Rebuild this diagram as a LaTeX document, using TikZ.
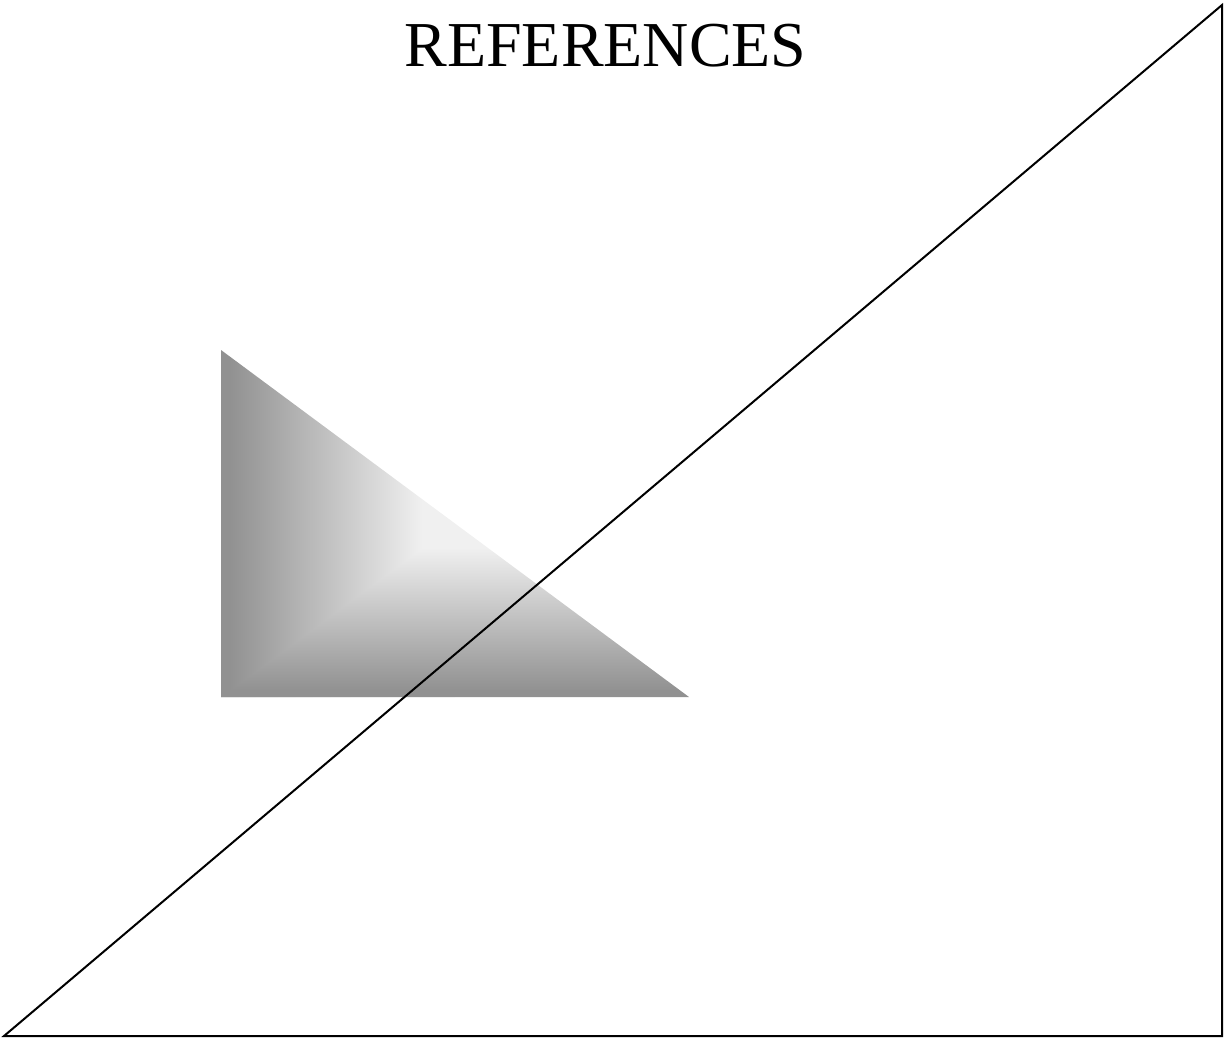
\documentclass[tikz,border=0pt]{standalone}
\usepackage{fontspec}
\setmainfont{Liberation Serif}
\usetikzlibrary{calc}
\definecolor{wedgedark}{gray}{0.57}
\definecolor{wedgelight}{gray}{0.94}
\pgfdeclarehorizontalshading{wedgeH}{100bp}{color(0bp)=(wedgedark); color(27bp)=(wedgedark); color(68bp)=(wedgelight); color(100bp)=(wedgelight)}
\pgfdeclareverticalshading{wedgeV}{100bp}{color(0bp)=(wedgedark); color(27bp)=(wedgedark); color(68bp)=(wedgelight); color(100bp)=(wedgelight)}
\tikzset{
  outline/.style   = {draw=black,line width=1pt,line join=miter},
  titletext/.style = {font=\fontsize{32}{38}\selectfont,anchor=base,inner sep=0pt}
}

\begin{document}
\begin{tikzpicture}[x=0.5pt,y=-0.5pt]
  \useasboundingbox (0,0) rectangle (1229,1039);
  \node[titletext] (title) at (605.5,66) {REFERENCES};
  % shaded wedge
  \coordinate (wtop)   at (221,350);
  \coordinate (wcorn)  at (221,697);
  \coordinate (wright) at (689,697);
  \coordinate (wmid)   at ($(wtop)!0.5!(wright)$);
  \begin{scope}
    \clip (wcorn) -- (wtop) -- (wright) -- cycle;
    \shade[shading=wedgeH] (wtop) rectangle (wcorn -| wmid);
  \end{scope}
  \begin{scope}
    \clip (wcorn) -- (wmid) -- (wright) -- cycle;
    \shade[shading=wedgeV] (wmid -| wcorn) rectangle (wright);
  \end{scope}
  % big triangle
  \coordinate (bl) at (4,1036);
  \coordinate (tr) at (1222,5);
  \coordinate (br) at (1222,1036);
  \draw[outline] (bl) -- (tr) -- (br) -- cycle;
\end{tikzpicture}
\end{document}
